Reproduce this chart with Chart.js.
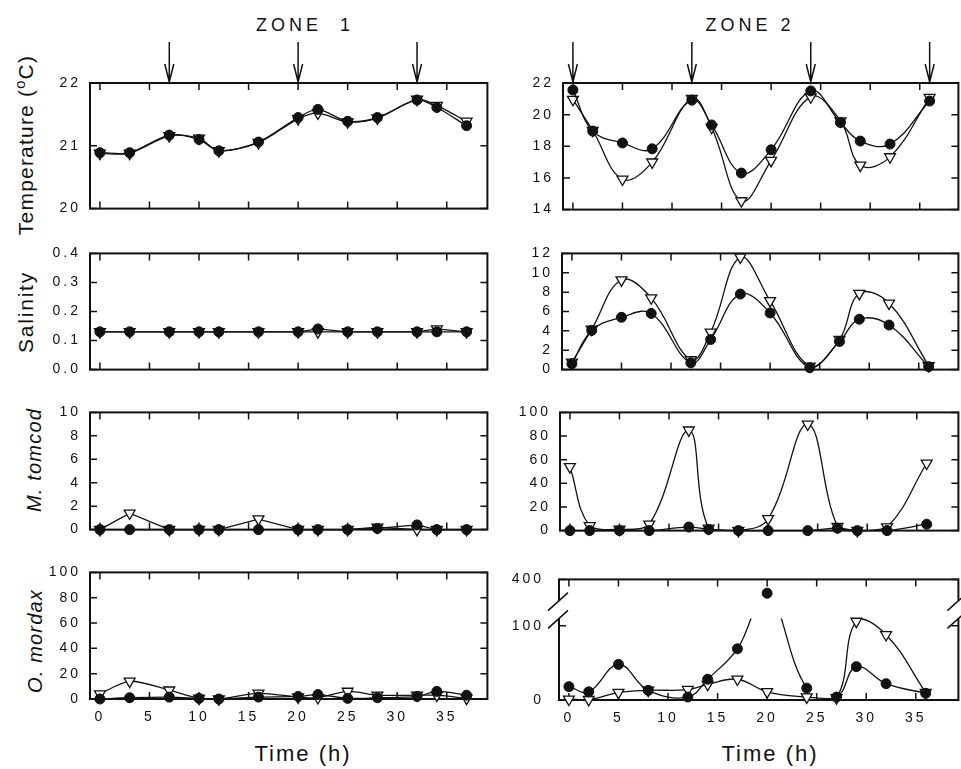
<!DOCTYPE html>
<html>
<head>
<meta charset="utf-8">
<script src="https://cdn.jsdelivr.net/npm/chart.js@4.4.1/dist/chart.umd.min.js"></script>
<style>
  html, body { margin: 0; background: #fff; width: 961px; height: 769px; overflow: hidden; }
  canvas { position: absolute; }
  .lbl { position: absolute; font-family: "Liberation Sans", Arial, sans-serif; color: #111;
         white-space: pre; transform: translate(-50%, -50%); }
  .rot { transform: translate(-50%, -50%) rotate(-90deg); }
  .it { font-style: italic; }
</style>
</head>
<body>
<div class="lbl" style="left:305px;top:25px;font-size:18px;letter-spacing:4px">ZONE  1</div>
<div class="lbl" style="left:750px;top:25px;font-size:18px;letter-spacing:4px">ZONE 2</div>
<div class="lbl rot" style="left:25px;top:145px;font-size:21px;letter-spacing:1.2px">Temperature (<span style="font-size:0.7em;vertical-align:0.6em">o</span>C)</div>
<div class="lbl rot" style="left:26px;top:312px;font-size:21px;letter-spacing:1.8px">Salinity</div>
<div class="lbl rot it" style="left:34px;top:460px;font-size:20px;letter-spacing:1.2px">M. tomcod</div>
<div class="lbl rot it" style="left:35px;top:641px;font-size:20px;letter-spacing:1.2px">O. mordax</div>
<div class="lbl" style="left:303px;top:754px;font-size:22px;letter-spacing:2px">Time (h)</div>
<div class="lbl" style="left:770px;top:754px;font-size:22px;letter-spacing:2px">Time (h)</div>

<script>
// sampling times (h)
const zone1Times = [0, 3, 7, 10, 12, 16, 20, 22, 25, 28, 32, 34, 37];
const zone2Times = [0, 2, 5, 8, 12, 14, 17, 20, 24, 27, 29, 32, 36];
const timeTicks = [0, 5, 10, 15, 20, 25, 30, 35];

// arrows above the temperature panels
const zone1Arrows = [7, 20, 32];
const zone2Arrows = [0, 12, 24, 36];

// zone 1 : filled circles / open triangles
const z1TempDot = [20.89, 20.89, 21.17, 21.10, 20.92, 21.06, 21.45, 21.58, 21.39, 21.45, 21.73, 21.61, 21.32];
const z1TempTri = [20.88, 20.88, 21.16, 21.12, 20.92, 21.05, 21.43, 21.52, 21.38, 21.44, 21.74, 21.64, 21.39];
const z1SalDot = [0.13, 0.13, 0.13, 0.13, 0.13, 0.13, 0.13, 0.14, 0.13, 0.13, 0.13, 0.13, 0.13];
const z1SalTri = [0.13, 0.13, 0.13, 0.13, 0.13, 0.13, 0.13, 0.13, 0.13, 0.13, 0.13, 0.14, 0.13];
const z1TomDot = [0, 0, 0, 0, 0, 0, 0, 0, 0, 0.1, 0.4, 0, 0];
const z1TomTri = [0, 1.4, 0, 0, 0, 0.9, 0, 0, 0, 0.2, 0, 0, 0];
const z1MorDot = [0, 1, 1.5, 0.5, 0, 1.5, 2, 3.5, 0.5, 1, 2, 6, 3];
const z1MorTri = [4, 14, 7, 0.5, 0, 4.5, 1.5, 1, 6, 3, 3, 3, 0.5];

// zone 2
const z2TempDot = [21.56, 18.96, 18.21, 17.84, 20.92, 19.35, 16.31, 17.78, 21.50, 19.50, 18.33, 18.14, 20.86];
const z2TempTri = [20.96, 19.00, 15.92, 17.00, 21.02, 19.19, 14.55, 17.10, 21.12, 19.60, 16.80, 17.33, 21.08];
const z2SalDot = [0.6, 4.05, 5.4, 5.8, 0.7, 3.1, 7.8, 5.85, 0.2, 2.9, 5.2, 4.6, 0.3];
const z2SalTri = [0.75, 4.15, 9.25, 7.4, 1.0, 3.85, 11.6, 7.1, 0.35, 3.1, 7.85, 6.85, 0.4];
const z2TomDot = [0, 0, 0, 0, 3, 1, 0, 0, 0, 2, 0, 0, 5.4];
const z2TomTri = [54, 4, 1, 5.4, 85, 2, 0, 10, 90, 3.4, 0, 3, 57];
const z2MorDot = [18, 11, 48, 13, 4, 28, 69, 335, 16, 4, 45, 22, 9];
const z2MorTri = [1, 0.5, 10, 13, 14, 21, 28, 11, 4, 3, 106, 88, 10];
const z2MorNoLineFrom = 24;   // circle line is interrupted after this sample

// y ticks / labels
const tempTicks1 = [20, 21, 22];
const salTicks1 = [0, 0.1, 0.2, 0.3, 0.4];
const salLabels1 = ['0.0', '0.1', '0.2', '0.3', '0.4'];
const tomTicks1 = [0, 2, 4, 6, 8, 10];
const morTicks1 = [0, 20, 40, 60, 80, 100];
const tempTicks2 = [14, 16, 18, 20, 22];
const salTicks2 = [0, 2, 4, 6, 8, 10, 12];
const tomTicks2 = [0, 20, 40, 60, 80, 100];
const morTicks2 = [0, 100, 400];

// broken axis for O. mordax zone 2: 0-110 below the break, 300-400 above
const brk = { low: 110, high: 300, top: 400, lowFrac: 92 / 136, gapFrac: 20 / 136 };

class BrokenScale extends Chart.LinearScale {
  getPixelForValue(v) {
    let d;
    if (v <= brk.low) d = v / brk.low * brk.lowFrac;
    else if (v >= brk.high) d = brk.lowFrac + brk.gapFrac + (v - brk.high) / (brk.top - brk.high) * (1 - brk.lowFrac - brk.gapFrac);
    else d = brk.lowFrac + (v - brk.low) / (brk.high - brk.low) * brk.gapFrac;
    return this.getPixelForDecimal(d);
  }
}
BrokenScale.id = 'broken';
BrokenScale.defaults = Chart.LinearScale.defaults;
Chart.register(BrokenScale);

const INK = '#111';
const TICK = 7;

const framePlugin = {
  id: 'frame',
  beforeDraw(chart) {
    chart.ctx.letterSpacing = '3px';
  },
  beforeDatasetsDraw(chart, args, opts) {
    const { ctx, chartArea: a, scales: { x, y } } = chart;
    ctx.save();
    ctx.strokeStyle = INK;
    ctx.lineWidth = 2;
    ctx.strokeRect(a.left, a.top, a.right - a.left, a.bottom - a.top);
    ctx.lineWidth = 1.5;
    ctx.beginPath();
    x.ticks.forEach(t => {
      const px = x.getPixelForValue(t.value);
      ctx.moveTo(px, a.bottom); ctx.lineTo(px, a.bottom - TICK);
      ctx.moveTo(px, a.top); ctx.lineTo(px, a.top + TICK);
    });
    y.ticks.forEach(t => {
      const py = y.getPixelForValue(t.value);
      ctx.moveTo(a.left, py); ctx.lineTo(a.left + TICK, py);
      ctx.moveTo(a.right, py); ctx.lineTo(a.right - TICK, py);
    });
    ctx.stroke();
    if (opts.broken) {
      const yLo = y.getPixelForValue(brk.low), yHi = y.getPixelForValue(brk.high);
      ctx.fillStyle = '#fff';
      [a.left, a.right].forEach(sx => {
        ctx.fillRect(sx - 2, yHi, 4, yLo - yHi);
      });
      ctx.beginPath();
      [a.left, a.right].forEach(sx => {
        [yHi, yLo].forEach(yy => {
          ctx.moveTo(sx - 11, yy + 10);
          ctx.lineTo(sx + 9, yy - 8);
        });
      });
      ctx.stroke();
    }
    ctx.restore();
  },
  beforeDatasetDraw(chart, args) {
    const ds = chart.data.datasets[args.index];
    if (!ds.lowOnly) return;
    const { ctx, chartArea: a, scales: { y } } = chart;
    const yLo = y.getPixelForValue(brk.low);
    ctx.save();
    ctx.beginPath();
    ctx.rect(a.left - 10, yLo, a.right - a.left + 20, a.bottom - yLo + 10);
    ctx.clip();
  },
  afterDatasetDraw(chart, args) {
    if (chart.data.datasets[args.index].lowOnly) chart.ctx.restore();
  },
  afterDraw(chart, args, opts) {
    if (!opts.arrows) return;
    const { ctx, chartArea: a, scales: { x } } = chart;
    ctx.save();
    ctx.strokeStyle = INK;
    ctx.lineWidth = 1.5;
    ctx.beginPath();
    opts.arrows.forEach(t => {
      const px = x.getPixelForValue(t);
      ctx.moveTo(px, a.top - 41); ctx.lineTo(px, a.top - 1);
      ctx.moveTo(px - 4.5, a.top - 19); ctx.lineTo(px, a.top - 1); ctx.lineTo(px + 4.5, a.top - 19);
    });
    ctx.stroke();
    ctx.restore();
  }
};

const tickFont = { family: '"Liberation Sans", Arial, sans-serif', size: 14 };

function pts(times, vals) {
  return times.map((t, i) => ({ x: t, y: vals[i] }));
}

function makePanel(p) {
  const [l, t, r, b] = p.box;
  const padTop = p.arrows ? 50 : 8;
  const padBottom = p.bottom ? 40 : 8;
  const cv = document.createElement('canvas');
  cv.width = r - l + 84;
  cv.height = b - t + padTop + padBottom;
  cv.style.left = (l - 80) + 'px';
  cv.style.top = (t - padTop) + 'px';
  document.body.appendChild(cv);

  const line = { borderColor: INK, borderWidth: 1.3, tension: p.tension, fill: false, clip: false };
  const dot = { pointStyle: 'circle', pointRadius: 5, pointBackgroundColor: INK, pointBorderColor: INK, pointBorderWidth: 1 };
  const tri = { pointStyle: 'triangle', pointRotation: 180, pointRadius: 6.3, pointBackgroundColor: '#fff', pointBorderColor: INK, pointBorderWidth: 1.3 };

  const datasets = [];
  if (p.broken) {
    datasets.push(Object.assign({ data: pts(p.times, p.dots), lowOnly: true, pointRadius: 0,
      segment: { borderColor: c => c.p0.parsed.x === z2MorNoLineFrom ? 'rgba(0,0,0,0)' : undefined } }, line));
    datasets.push(Object.assign({ data: pts(p.times, p.dots), showLine: false, clip: false }, dot));
  } else {
    datasets.push(Object.assign({ data: pts(p.times, p.dots) }, line, dot));
  }
  datasets.push(Object.assign({ data: pts(p.times, p.tris) }, line, tri));

  new Chart(cv, {
    type: 'line',
    data: { datasets },
    options: {
      responsive: false,
      animation: false,
      events: [],
      layout: { padding: { left: 0, right: 4, top: padTop, bottom: p.bottom ? padBottom - 30 : padBottom } },
      plugins: {
        legend: { display: false },
        tooltip: { enabled: false },
        frame: { arrows: p.arrows, broken: p.broken }
      },
      scales: {
        x: {
          type: 'linear', min: -1, max: -1 + (r - l) / 10,
          grid: { display: false, drawTicks: false }, border: { display: false },
          ticks: { display: !!p.bottom, font: tickFont, color: INK, padding: 10, maxRotation: 0, autoSkip: false,
                   callback: v => String(v) },
          afterBuildTicks: s => { s.ticks = timeTicks.map(v => ({ value: v })); },
          afterFit: s => { s.height = p.bottom ? 30 : 0; }
        },
        y: {
          type: p.broken ? 'broken' : 'linear', min: p.yMin, max: p.yMax,
          grid: { display: false, drawTicks: false }, border: { display: false },
          ticks: { font: tickFont, color: INK, padding: p.labelPad || 9, autoSkip: false,
                   callback: (v, i) => p.yLabels ? p.yLabels[i] : String(p.yTicks[i]) },
          afterBuildTicks: s => { s.ticks = p.yTicks.map(v => ({ value: v })); },
          afterFit: s => { s.width = 80; }
        }
      }
    },
    plugins: [framePlugin]
  });
}

document.addEventListener('DOMContentLoaded', function () {
  const panels = [
    { box: [90, 83, 491, 218], times: zone1Times, dots: z1TempDot, tris: z1TempTri, yMin: 20, yMax: 22, yTicks: tempTicks1, tension: 0.3, arrows: zone1Arrows },
    { box: [90, 244, 491, 379], times: zone1Times, dots: z1SalDot, tris: z1SalTri, yMin: 0, yMax: 0.4, yTicks: salTicks1, yLabels: salLabels1, tension: 0 },
    { box: [90, 403, 491, 539], times: zone1Times, dots: z1TomDot, tris: z1TomTri, yMin: 0, yMax: 10, yTicks: tomTicks1, tension: 0 },
    { box: [90, 563, 491, 699], times: zone1Times, dots: z1MorDot, tris: z1MorTri, yMin: 0, yMax: 100, yTicks: morTicks1, tension: 0.3, bottom: true },
    { box: [563, 83, 962, 219], times: zone2Times, dots: z2TempDot, tris: z2TempTri, yMin: 14, yMax: 22, yTicks: tempTicks2, tension: 0.4, arrows: zone2Arrows },
    { box: [562, 244, 962, 379], times: zone2Times, dots: z2SalDot, tris: z2SalTri, yMin: 0, yMax: 12, yTicks: salTicks2, tension: 0.4 },
    { box: [560, 403, 962, 540], times: zone2Times, dots: z2TomDot, tris: z2TomTri, yMin: 0, yMax: 100, yTicks: tomTicks2, tension: 0.4 },
    { box: [559, 564, 962, 700], times: zone2Times, dots: z2MorDot, tris: z2MorTri, yMin: 0, yMax: 400, yTicks: morTicks2, tension: 0.4, bottom: true, broken: true, labelPad: 15 }
  ];
  panels.forEach(makePanel);
});
</script>
</body>
</html>
